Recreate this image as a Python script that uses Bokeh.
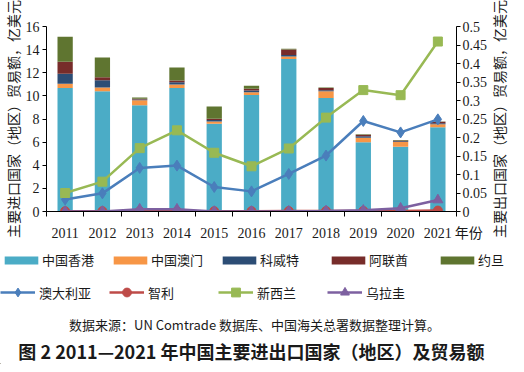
import math
from bokeh.plotting import figure
from bokeh.layouts import column, row
from bokeh.models import (Range1d, LinearAxis, FixedTicker, NumeralTickFormatter,
                          Legend, LegendItem, Label, Title, ColumnDataSource)
from bokeh.embed import file_html
from bokeh.resources import INLINE

# ---------------- data ----------------
years = [2011, 2012, 2013, 2014, 2015, 2016, 2017, 2018, 2019, 2020, 2021]

# export partners (right axis, 亿美元)
export_names = ["中国香港", "中国澳门", "科威特", "阿联酋", "约旦"]
hong_kong = [0.334, 0.325, 0.287, 0.334, 0.237, 0.315, 0.412, 0.307, 0.1875, 0.175, 0.2275]
macao     = [0.011, 0.010, 0.014, 0.009, 0.006, 0.007, 0.007, 0.018, 0.012, 0.013, 0.008]
kuwait    = [0.027, 0.020, 0.002, 0.006, 0.004, 0.005, 0.004, 0.003, 0.004, 0.002, 0.003]
uae       = [0.033, 0.008, 0.002, 0.005, 0.004, 0.005, 0.015, 0.006, 0.004, 0.002, 0.004]
jordan    = [0.067, 0.053, 0.003, 0.035, 0.033, 0.008, 0.002, 0.001, 0.001, 0.001, 0.001]

# import partners (left axis, 亿美元)
import_names = ["澳大利亚", "智利", "新西兰", "乌拉圭"]
australia   = [1.04, 1.57, 3.77, 3.97, 2.12, 1.74, 3.25, 4.84, 7.83, 6.84, 7.97]
chile       = [0.03, 0.03, 0.03, 0.03, 0.03, 0.03, 0.04, 0.04, 0.05, 0.05, 0.08]
new_zealand = [1.60, 2.58, 5.48, 7.02, 5.08, 3.91, 5.45, 8.12, 10.50, 10.06, 14.70]
uruguay     = [0.00, 0.00, 0.20, 0.20, 0.00, 0.00, 0.02, 0.05, 0.10, 0.28, 1.00]

left_ticks = [0, 2, 4, 6, 8, 10, 12, 14, 16]
right_ticks = [0, 0.05, 0.1, 0.15, 0.2, 0.25, 0.3, 0.35, 0.4, 0.45, 0.5]
year_bounds = [2010.5, 2011.5, 2012.5, 2013.5, 2014.5, 2015.5, 2016.5,
               2017.5, 2018.5, 2019.5, 2020.5, 2021.5]
x_unit_label = "年份"
left_title = "主要进口国家（地区）贸易额，亿美元"
right_title = "主要出口国家（地区）贸易额，亿美元"
source_note = "数据来源：UN Comtrade 数据库、中国海关总署数据整理计算。"
fig_title = "图 2  2011—2021 年中国主要进出口国家（地区）及贸易额"

bar_colors = ["#4BACC6", "#F79646", "#2C4D75", "#772C2A", "#5F7530"]
line_colors = ["#4A7EBB", "#BE4B48", "#98B954", "#7D60A0"]
markers = ["diamond", "circle", "square", "triangle"]
marker_sizes = [11, 9, 9, 10]

CJK = "Noto Sans CJK SC"
SERIF = "Liberation Serif, Noto Sans CJK SC"
TXT = "#1a1a1a"


def blank(w, h):
    f = figure(width=w, height=h, output_backend="svg", toolbar_location=None,
               x_range=Range1d(0, w), y_range=Range1d(0, h),
               x_axis_location=None, y_axis_location=None, title=None,
               min_border=0, min_border_left=0, min_border_right=0,
               min_border_top=0, min_border_bottom=0)
    f.grid.visible = False
    f.outline_line_color = None
    f.background_fill_color = "white"
    f.border_fill_color = "white"
    return f


def side_title(text):
    return Title(text=text, align="center", offset=-3, standoff=0,
                 text_font=CJK, text_font_size="14px",
                 text_font_style="normal", text_color=TXT)


# ---------------- main chart ----------------
p = figure(width=490, height=248, output_backend="svg", toolbar_location=None,
           x_range=Range1d(2010.5, 2021.5), y_range=Range1d(0, 16), title=None,
           min_border_left=39, min_border_right=31, min_border_top=26,
           min_border_bottom=37)
p.outline_line_color = None
p.grid.visible = False
p.background_fill_color = "white"
p.border_fill_color = "white"
p.extra_y_ranges = {"right": Range1d(0, 0.5)}

src = ColumnDataSource(dict(year=years, hk=hong_kong, mo=macao, kw=kuwait,
                            ae=uae, jo=jordan))
p.vbar_stack(["hk", "mo", "kw", "ae", "jo"], x="year", width=0.41,
             color=bar_colors, line_color=None, source=src,
             y_range_name="right")

for vals, col, mk, ms in zip([australia, chile, new_zealand, uruguay],
                             line_colors, markers, marker_sizes):
    p.line(years, vals, line_color=col, line_width=2.5)
    p.scatter(years, vals, marker=mk, size=ms, fill_color=col, line_color=col)

xa = p.xaxis[0]
xa.ticker = FixedTicker(ticks=years, minor_ticks=year_bounds)
xa.major_tick_line_color = None
xa.major_tick_out = 5
xa.minor_tick_line_color = "black"
xa.minor_tick_out = 5
xa.minor_tick_in = 0
xa.major_label_standoff = 9
xa.major_label_overrides = {years[-1]: "\u3000\u3000\u2009" + str(years[-1]) + "\u2009" + x_unit_label}

ya = p.yaxis[0]
ya.ticker = FixedTicker(ticks=left_ticks)
ya.major_tick_out = 4
ya.major_tick_in = 0
ya.minor_tick_line_color = None
ya.major_label_standoff = 3

ra = LinearAxis(y_range_name="right", ticker=FixedTicker(ticks=right_ticks),
                formatter=NumeralTickFormatter(format="0.[00]"))
ra.major_tick_out = 4
ra.major_tick_in = 0
ra.minor_tick_line_color = None
ra.major_label_standoff = 2
p.add_layout(ra, "right")

for ax in [xa, ya, ra]:
    ax.major_label_text_font = SERIF
    ax.major_label_text_font_size = "14px"
    ax.major_label_text_color = TXT
    ax.axis_line_color = "black"

p.add_layout(side_title(left_title), "left")

# right-hand axis title (reads bottom-to-top like the left one)
rf = blank(18, 248)
rf.add_layout(side_title(right_title), "left")

# ---------------- legend + notes panel ----------------
q = blank(508, 116)

# key glyphs (placed outside the visible range; only their legend swatches show)
bar_items = []
for n, c in zip(export_names, bar_colors):
    r = q.vbar(x=[-1000], top=[1], width=1, fill_color=c, line_color=None)
    bar_items.append(LegendItem(label=n, renderers=[r]))
line_items = []
for n, c, mk in zip(import_names, line_colors, markers):
    lr = q.line(x=[-1000, -999], y=[1, 1], line_color=c, line_width=2.5)
    sr = q.scatter(x=[-1000], y=[1], marker=mk, fill_color=c, line_color=c)
    line_items.append(LegendItem(label=n, renderers=[lr, sr]))

leg1 = Legend(items=bar_items, orientation="horizontal", location=(0, 95),
              glyph_width=42, glyph_height=10, label_standoff=0,
              label_width=62, label_height=16, spacing=5, padding=0, margin=0,
              border_line_color=None, background_fill_alpha=0,
              label_text_font=CJK, label_text_font_size="13px",
              label_text_color=TXT)
leg2 = Legend(items=line_items, orientation="horizontal", location=(0, 61),
              glyph_width=35, glyph_height=22, label_standoff=4,
              label_width=65, label_height=22, spacing=5, padding=0, margin=0,
              border_line_color=None, background_fill_alpha=0,
              label_text_font=CJK, label_text_font_size="13px",
              label_text_color=TXT)
q.add_layout(leg1, "center")
q.add_layout(leg2, "center")

q.add_layout(Label(x=254, y=40, text=source_note,
                   text_align="center", text_baseline="middle",
                   text_font=CJK, text_font_size="13px", text_color=TXT))
q.add_layout(Label(x=253, y=14, text=fig_title,
                   text_align="center", text_baseline="middle",
                   text_font=CJK, text_font_size="18px", text_font_style="bold",
                   text_color=TXT))

layout = column(row(p, rf, spacing=0), q, spacing=0)
open("out.html", "w").write(file_html(layout, INLINE))
